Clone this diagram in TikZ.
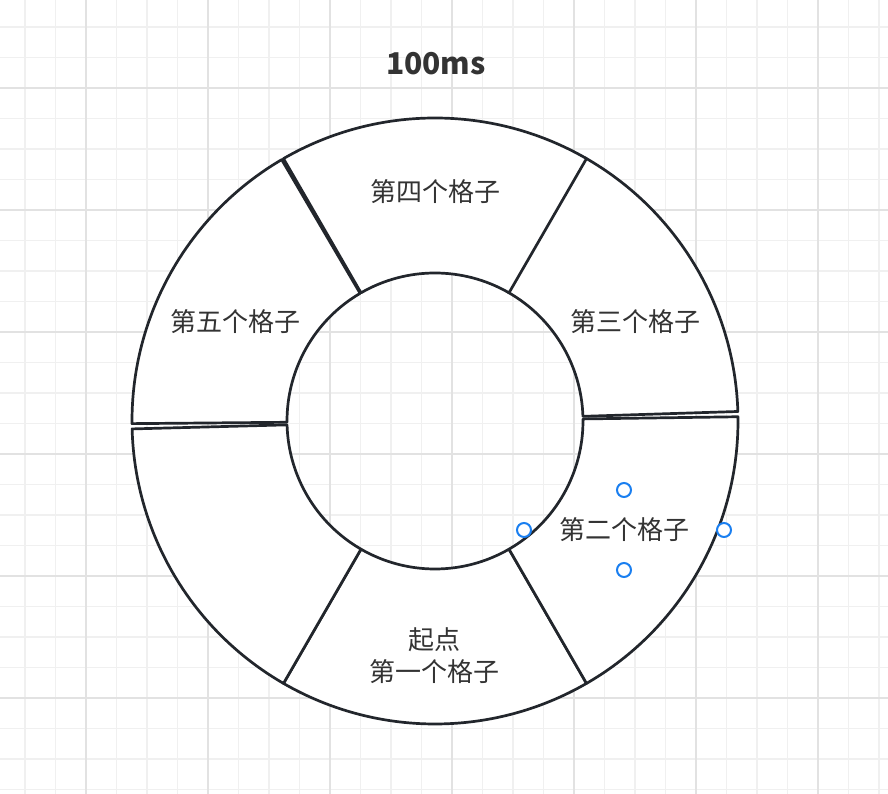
\documentclass[tikz,border=0pt]{standalone}
\usepackage{fontspec}
\setmainfont{Noto Sans CJK SC}
\usepackage{xcolor}
\definecolor{gridminor}{HTML}{F0F0F0}
\definecolor{gridmajor}{HTML}{E2E2E2}
\definecolor{ringline}{HTML}{22262C}
\definecolor{labeltext}{HTML}{333333}
\definecolor{handleblue}{HTML}{1A7FF0}

\begin{document}
\begin{tikzpicture}[x=1pt, y=1pt,
    seg/.style={draw=ringline, line width=2.7pt, fill=white, line join=round},
    cell/.style={font=\fontsize{26}{32}\selectfont, text=labeltext, align=center, inner sep=0pt},
    handle/.style={circle, draw=handleblue, line width=2pt, fill=white, minimum size=14pt, inner sep=0pt}]
        % Canvas
        \useasboundingbox (0,0) rectangle (888,794);
        \fill[white] (0,0) rectangle (888,794);

        % Grid
        \foreach \i [evaluate=\i as \gx using 86+30.5*\i] in {-2,...,26}
            \draw[gridminor, line width=1.3pt] (\gx,0) -- (\gx,794);
        \foreach \i [evaluate=\i as \gy using 706-30.5*\i] in {-2,...,23}
            \draw[gridminor, line width=1.3pt] (0,\gy) -- (888,\gy);
        \foreach \i [evaluate=\i as \gx using 86+30.5*\i] in {0,4,...,24}
            \draw[gridmajor, line width=1.5pt] (\gx,0) -- (\gx,794);
        \foreach \i [evaluate=\i as \gy using 706-30.5*\i] in {0,4,...,20}
            \draw[gridmajor, line width=1.5pt] (0,\gy) -- (888,\gy);

        % Ring segments
        \begin{scope}[shift={(435,373)}]
            \foreach \a/\b in {240/300, 300/360.8, 1.8/60.3, 60/120, 120.4/180.5, 181.5/240}
                \draw[seg] (\a:303) arc[start angle=\a, end angle=\b, radius=303]
                    -- (\b:148) arc[start angle=\b, end angle=\a, radius=148] -- cycle;
        \end{scope}

        % Title
        \node[font=\fontsize{30}{36}\selectfont\bfseries, text=labeltext] (title) at (436,730) {100ms};

        % Cell labels
        \node[cell] (cell1) at (434,138) {起点\\第一个格子};
        \node[cell] (cell2) at (624,264) {第二个格子};
        \node[cell] (cell3) at (635,472) {第三个格子};
        \node[cell] (cell4) at (435,602) {第四个格子};
        \node[cell] (cell5) at (235,472) {第五个格子};

        % Selection handles
        \node[handle] (handle-n) at (624,304) {};
        \node[handle] (handle-w) at (524,264) {};
        \node[handle] (handle-e) at (724,264) {};
        \node[handle] (handle-s) at (624,224) {};
\end{tikzpicture}
\end{document}
